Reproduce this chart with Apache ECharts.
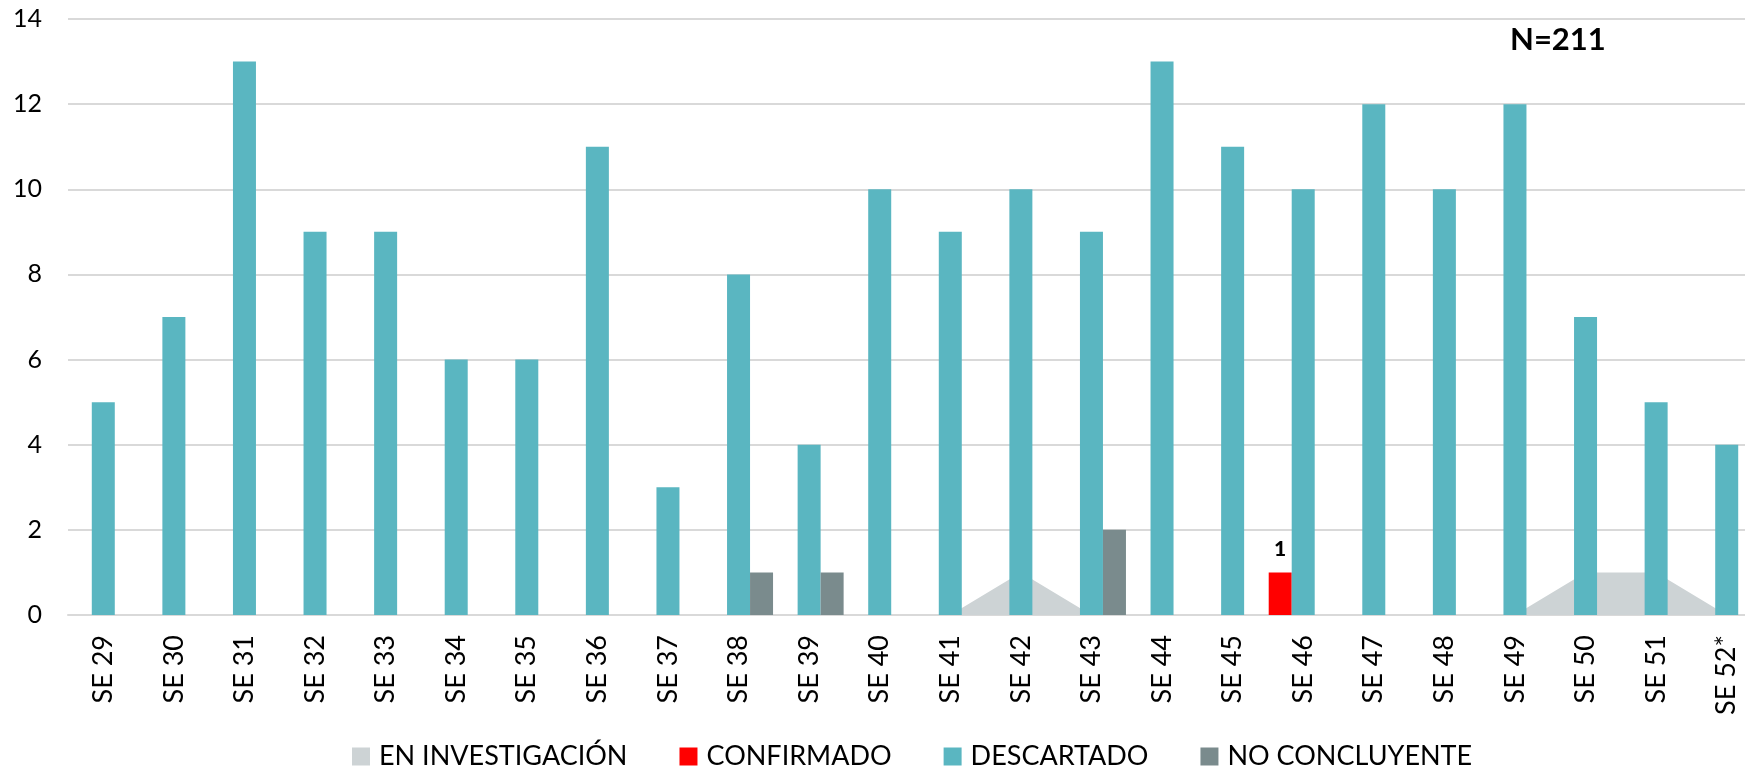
<!DOCTYPE html>
<html>
<head>
<meta charset="utf-8">
<script src="https://cdn.jsdelivr.net/npm/echarts@6/dist/echarts.min.js"></script>
<style>
  html, body { margin: 0; padding: 0; background: #fff; }
  #myChart { width: 1745px; height: 769px; }
</style>
</head>
<body>
<div id="myChart"></div>
<script>
// semanas epidemiologicas
var semanas = ['SE 29', 'SE 30', 'SE 31', 'SE 32', 'SE 33', 'SE 34', 'SE 35', 'SE 36', 'SE 37', 'SE 38', 'SE 39', 'SE 40',
  'SE 41', 'SE 42', 'SE 43', 'SE 44', 'SE 45', 'SE 46', 'SE 47', 'SE 48', 'SE 49', 'SE 50', 'SE 51', 'SE 52*'];
var enInvestigacion = [0, 0, 0, 0, 0, 0, 0, 0, 0, 0, 0, 0, 0, 1, 0, 0, 0, 0, 0, 0, 0, 1, 1, 0];
var confirmado = [0, 0, 0, 0, 0, 0, 0, 0, 0, 0, 0, 0, 0, 0, 0, 0, 0, 1, 0, 0, 0, 0, 0, 0];
var descartado = [5, 7, 13, 9, 9, 6, 6, 11, 3, 8, 4, 10, 9, 10, 9, 13, 11, 10, 12, 10, 12, 7, 5, 4];
var noConcluyente = [0, 0, 0, 0, 0, 0, 0, 0, 0, 1, 1, 0, 0, 0, 2, 0, 0, 0, 0, 0, 0, 0, 0, 0];
var totalTexto = 'N=211';

var fuente = 'Lato, "Open Sans", sans-serif';

var myChart = echarts.init(document.getElementById('myChart'));
var option = {
  animation: false,
  textStyle: { fontFamily: fuente },
  // el grafico original queda cortado a la derecha
  grid: { left: 68, top: 19, width: 1694, height: 596, outerBoundsMode: 'none', containLabel: false },
  legend: {
    left: 347,
    top: 738,
    icon: 'rect',
    itemWidth: 18,
    itemHeight: 18,
    itemGap: 52,
    textStyle: { fontSize: 27, color: '#000', fontFamily: fuente, padding: [0, 0, 0, 4] },
    data: ['EN INVESTIGACIÓN', 'CONFIRMADO', 'DESCARTADO', 'NO CONCLUYENTE']
  },
  graphic: [{
    type: 'text',
    left: 1510,
    top: 24,
    style: { text: totalTexto, font: 'bold 31px ' + fuente, fill: '#000' }
  }],
  xAxis: {
    type: 'category',
    data: semanas,
    axisLine: { lineStyle: { color: '#D9D9D9', width: 2 } },
    axisTick: { show: false },
    axisLabel: { rotate: 90, margin: 20, fontSize: 27, color: '#000', fontFamily: fuente }
  },
  yAxis: {
    type: 'value',
    min: 0,
    max: 14,
    interval: 2,
    axisLabel: { margin: 26, fontSize: 25, color: '#000', fontFamily: fuente },
    splitLine: { lineStyle: { color: '#D9D9D9', width: 2 } }
  },
  series: [
    {
      name: 'EN INVESTIGACIÓN',
      type: 'line',
      data: enInvestigacion,
      z: 1,
      showSymbol: false,
      symbol: 'none',
      lineStyle: { width: 0 },
      itemStyle: { color: '#CDD3D5' },
      areaStyle: { color: '#CDD3D5', opacity: 1 }
    },
    {
      name: 'CONFIRMADO',
      type: 'bar',
      data: confirmado,
      barWidth: 23,
      barGap: '0%',
      itemStyle: { color: '#FF0000' },
      label: {
        show: true,
        position: 'top',
        distance: 13,
        fontSize: 21,
        fontWeight: 900,
        fontFamily: fuente,
        color: '#000',
        formatter: function (p) { return p.value ? String(p.value) : ''; }
      }
    },
    {
      name: 'DESCARTADO',
      type: 'bar',
      data: descartado,
      barWidth: 23,
      barGap: '0%',
      itemStyle: { color: '#5AB6C1' }
    },
    {
      name: 'NO CONCLUYENTE',
      type: 'bar',
      data: noConcluyente,
      barWidth: 23,
      barGap: '0%',
      itemStyle: { color: '#7A8B8D' }
    }
  ]
};
myChart.setOption(option);
</script>
</body>
</html>
